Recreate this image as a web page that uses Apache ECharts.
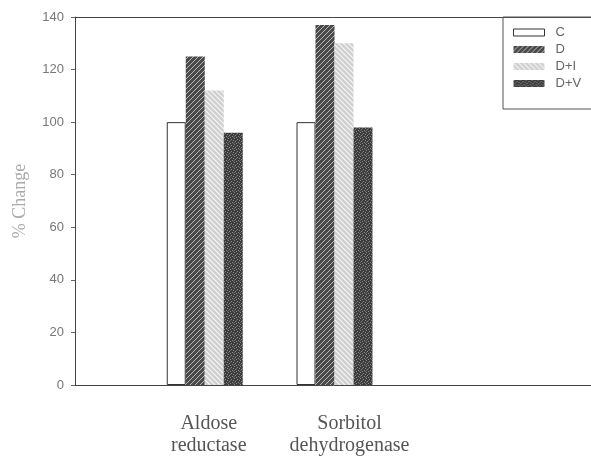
<!DOCTYPE html>
<html><head><meta charset="utf-8">
<script src="https://cdn.jsdelivr.net/npm/echarts@6/dist/echarts.min.js"></script>
<style>html,body{margin:0;padding:0;background:#fff}#c{width:591px;height:457px}</style>
</head><body><div id="c"></div>
<script>
const categories = ['', 'Aldose\nreductase', 'Sorbitol\ndehydrogenase', '', ''];
const seriesNames = ['C', 'D', 'D+I', 'D+V'];
const valuesC = ['-', 100, 100, '-', '-'];
const valuesD = ['-', 125, 137, '-', '-'];
const valuesDI = ['-', 112, 130, '-', '-'];
const valuesDV = ['-', 96, 98, '-', '-'];
const yTicks = [0, 20, 40, 60, 80, 100, 120, 140];

function hatch(bg, fg, dir, s, lw) {
  const c = document.createElement('canvas');
  c.width = s; c.height = s;
  const g = c.getContext('2d');
  g.fillStyle = bg; g.fillRect(0, 0, s, s);
  g.strokeStyle = fg; g.lineWidth = lw;
  g.beginPath();
  if (dir === '/') {
    g.moveTo(0, s); g.lineTo(s, 0);
    g.moveTo(-1, 1); g.lineTo(1, -1);
    g.moveTo(s - 1, s + 1); g.lineTo(s + 1, s - 1);
  } else {
    g.moveTo(0, 0); g.lineTo(s, s);
    g.moveTo(-1, s - 1); g.lineTo(1, s + 1);
    g.moveTo(s - 1, -1); g.lineTo(s + 1, 1);
  }
  g.stroke();
  return { image: c, repeat: 'repeat' };
}
function speckle() {
  const c = document.createElement('canvas');
  c.width = 6; c.height = 6;
  const g = c.getContext('2d');
  g.fillStyle = '#3c3c3c'; g.fillRect(0, 0, 6, 6);
  g.fillStyle = '#8a8a8a';
  [[0,0],[3,1],[1,3],[4,4],[2,5],[5,2]].forEach(p => g.fillRect(p[0], p[1], 1, 1));
  g.fillStyle = '#666';
  [[2,2],[5,5],[0,4]].forEach(p => g.fillRect(p[0], p[1], 1, 1));
  return { image: c, repeat: 'repeat' };
}

const styles = [
  { color: '#ffffff', borderColor: '#333', borderWidth: 1 },
  { color: hatch('#4a4a4a', '#b8b8b8', '/', 5, 1), borderWidth: 0 },
  { color: hatch('#cfcfcf', '#f6f6f6', '\\', 5, 1.2), borderWidth: 0 },
  { color: speckle(), borderWidth: 0 }
];
const allValues = [valuesC, valuesD, valuesDI, valuesDV];

const chart = echarts.init(document.getElementById('c'), null, { renderer: 'canvas' });
chart.setOption({
  animation: false,
  backgroundColor: '#fff',
  grid: { left: 75, top: 17, width: 519, bottom: 72, containLabel: false, outerBoundsMode: 'none' },
  legend: {
    data: seriesNames.map(n => ({ name: n, icon: 'rect' })),
    orient: 'vertical',
    left: 503, top: 17,
    padding: [9, 60, 19, 10],
    itemWidth: 31, itemHeight: 7, itemGap: 4,
    borderColor: '#555', borderWidth: 1,
    itemStyle: { borderWidth: 1 },
    textStyle: { fontFamily: 'Liberation Sans', fontSize: 13, lineHeight: 13, color: '#666', padding: [0, 0, 0, 6] }
  },
  xAxis: [{
    type: 'category', data: categories, boundaryGap: false,
    axisLine: { lineStyle: { color: '#444', width: 1 } },
    axisTick: { show: false },
    axisLabel: {
      interval: 0, margin: 28,
      formatter: (v, i) => i === 1 ? '{a|' + v.split('\n').join('}\n{a|') + '}'
                        : i === 2 ? '{b|' + v.split('\n').join('}\n{b|') + '}' : v,
      rich: {
        a: { fontFamily: 'Liberation Serif', fontSize: 20, lineHeight: 22, color: '#555', padding: [0, 0, 0, 8] },
        b: { fontFamily: 'Liberation Serif', fontSize: 20, lineHeight: 22, color: '#555', padding: [0, 0, 0, 30] }
      }
    }
  }, {
    type: 'category', data: categories, boundaryGap: false, position: 'top',
    axisLine: { show: true, lineStyle: { color: '#444', width: 1 } },
    axisTick: { show: false }, axisLabel: { show: false }
  }],
  yAxis: {
    type: 'value', min: 0, max: 140, interval: 20,
    name: '% Change', nameLocation: 'middle', nameGap: 46,
    nameTextStyle: { fontFamily: 'Liberation Serif', fontSize: 18, color: '#aaa' },
    axisLine: { show: true, lineStyle: { color: '#444', width: 1 } },
    axisTick: { show: true, length: 4, lineStyle: { color: '#666' } },
    splitLine: { show: false },
    axisLabel: { fontFamily: 'Liberation Sans', fontSize: 13, color: '#777', margin: 11,
      formatter: v => yTicks.includes(v) ? String(v) : '' }
  },
  series: seriesNames.map((n, i) => ({
    name: n, type: 'bar', xAxisIndex: 0, data: allValues[i],
    barWidth: 19, barGap: '0%', itemStyle: styles[i]
  }))
});
</script></body></html>
